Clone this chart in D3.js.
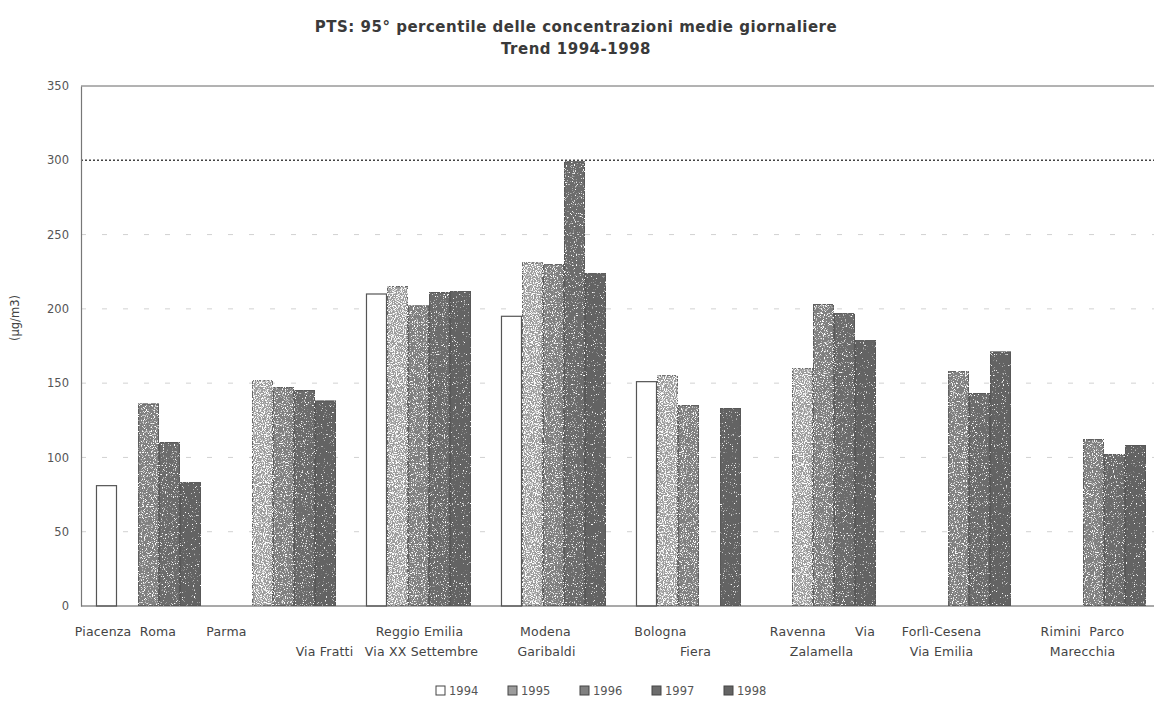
<!DOCTYPE html>
<html>
<head>
<meta charset="utf-8">
<script src="https://cdn.jsdelivr.net/npm/d3@7"></script>
<style>
  body { margin: 0; background: #fff; }
  svg { display: block; }
  text { font-family: "DejaVu Sans", "Liberation Sans", Arial, sans-serif; }
</style>
</head>
<body>
<svg id="chart" width="1154" height="702"></svg>
<script>
// Monitoring stations (one group of bars each)
const stations = [
  "Piacenza Roma", "Parma Via Fratti", "Reggio Emilia Via XX Settembre",
  "Modena Garibaldi", "Bologna Fiera", "Ravenna Via Zalamella",
  "Forlì-Cesena Via Emilia", "Rimini Parco Marecchia"
];
// Axis label lines as printed under each group
const stationLines = [
  ["Piacenza  Roma"], ["Parma", "Via Fratti"], ["Reggio Emilia", "Via XX Settembre"],
  ["Modena", "Garibaldi"], ["Bologna", "Fiera"], ["Ravenna       Via", "Zalamella"],
  ["Forlì-Cesena", "Via Emilia"], ["Rimini  Parco", "Marecchia"]
];
const years = ["1994", "1995", "1996", "1997", "1998"];

// 95th percentile of daily mean PTS concentrations (µg/m3); null = no data
const pts1994 = [81, null, 210, 195, 151, null, null, null];
const pts1995 = [null, 152, 215, 231, 155, 160, null, null];
const pts1996 = [136, 147, 202, 230, 135, 203, 158, 112];
const pts1997 = [110, 145, 211, 299, null, 197, 143, 102];
const pts1998 = [83, 138, 212, 224, 133, 179, 171, 108];
const yTicks = [0, 50, 100, 150, 200, 250, 300, 350];
const limitValue = 300;

const series = [pts1994, pts1995, pts1996, pts1997, pts1998];

const svg = d3.select("#chart");
const M = { left: 81, top: 86, bottom: 606, right: 1161 };

const x0 = d3.scaleBand().domain(stations).range([M.left, M.right]).padding(0);
const bw = x0.bandwidth();
const x1 = d3.scaleBand().domain(years).range([bw * 0.111, bw * 0.889]).padding(0);
const y = d3.scaleLinear().domain([0, 350]).range([M.bottom, M.top]);

// speckle texture for the grey fills
const defs = svg.append("defs");
function speckle(id, freq, slope, offset) {
  const f = defs.append("filter").attr("id", id)
    .attr("x", 0).attr("y", 0).attr("width", 1).attr("height", 1);
  f.append("feTurbulence").attr("type", "fractalNoise")
    .attr("baseFrequency", freq).attr("numOctaves", 2).attr("seed", 3).attr("result", "noise");
  f.append("feColorMatrix").attr("in", "noise").attr("type", "matrix")
    .attr("values", `0 0 0 0 1  0 0 0 0 1  0 0 0 0 1  ${slope} 0 0 0 ${offset}`)
    .attr("result", "dots");
  f.append("feComposite").attr("in", "dots").attr("in2", "SourceGraphic")
    .attr("operator", "in").attr("result", "dotsIn");
  const m = f.append("feMerge");
  m.append("feMergeNode").attr("in", "SourceGraphic");
  m.append("feMergeNode").attr("in", "dotsIn");
}
speckle("sp1995", 0.9, 7, -3.4);
speckle("sp1996", 0.9, 7, -3.9);
speckle("sp1997", 0.9, 7, -4.3);
speckle("sp1998", 0.9, 7, -4.6);

const fills = { "1994": "#ffffff", "1995": "#9c9c9c", "1996": "#808080", "1997": "#6c6c6c", "1998": "#646464" };
const filters = { "1994": null, "1995": "url(#sp1995)", "1996": "url(#sp1996)", "1997": "url(#sp1997)", "1998": "url(#sp1998)" };
const strokes = { "1994": "#555", "1995": "#666", "1996": "#5e5e5e", "1997": "#5a5a5a", "1998": "#585858" };

// faint gridlines
svg.append("g").selectAll("line")
  .data(yTicks.filter(t => t > 0 && t < 350 && t !== limitValue))
  .join("line")
  .attr("x1", M.left).attr("x2", M.right)
  .attr("y1", d => y(d)).attr("y2", d => y(d))
  .attr("stroke", "#9a9a9a").attr("stroke-width", 1)
  .attr("stroke-dasharray", "5,16").attr("opacity", 0.45);

// limit line at 300
svg.append("line")
  .attr("x1", M.left).attr("x2", M.right)
  .attr("y1", y(limitValue)).attr("y2", y(limitValue))
  .attr("stroke", "#444").attr("stroke-width", 1.6)
  .attr("stroke-dasharray", "2,2");

// bars
const barData = [];
stations.forEach((s, i) => {
  years.forEach((yr, j) => {
    const v = series[j][i];
    if (v != null) barData.push({ station: s, year: yr, value: v });
  });
});
svg.append("g").selectAll("rect")
  .data(barData)
  .join("rect")
  .attr("x", d => x0(d.station) + x1(d.year) + 0.5)
  .attr("y", d => y(d.value))
  .attr("width", x1.bandwidth() - 1)
  .attr("height", d => y(0) - y(d.value))
  .attr("fill", d => fills[d.year])
  .attr("filter", d => filters[d.year])
  .attr("stroke", d => strokes[d.year])
  .attr("stroke-width", 1.2);

// frame: top border, baseline
svg.append("line").attr("x1", M.left).attr("x2", M.right)
  .attr("y1", y(350)).attr("y2", y(350)).attr("stroke", "#666").attr("stroke-width", 1);
svg.append("line").attr("x1", M.left).attr("x2", M.right)
  .attr("y1", y(0)).attr("y2", y(0)).attr("stroke", "#555").attr("stroke-width", 1.2);

const yAxis = svg.append("g")
  .attr("transform", `translate(${M.left},0)`)
  .call(d3.axisLeft(y).tickValues(yTicks).tickSize(0).tickPadding(12));
yAxis.select(".domain").attr("stroke", "#777").attr("stroke-width", 1.2);
yAxis.selectAll("text").attr("font-size", 11.5).attr("fill", "#555")
  .attr("font-family", "'DejaVu Sans', 'Liberation Sans', Arial, sans-serif");

// y label
svg.append("text")
  .attr("transform", `translate(19,318) rotate(-90)`)
  .attr("text-anchor", "middle").attr("font-size", 11.5).attr("fill", "#444")
  .text("(µg/m3)");

// station labels
const labelShift = [[-23], [-57, 41], [1, 3], [-8, -7], [-28, 7], [-1, -2], [-17, -17], [-11, -11]];
const labels = svg.append("g").attr("font-size", 12.5).attr("fill", "#444")
  .attr("letter-spacing", 0.2);
stationLines.forEach((lines, i) => {
  lines.forEach((t, k) => {
    labels.append("text")
      .attr("x", x0(stations[i]) + bw / 2 + labelShift[i][k])
      .attr("y", 636 + k * 20)
      .attr("text-anchor", "middle")
      .attr("xml:space", "preserve")
      .style("white-space", "pre")
      .text(t);
  });
});

// title
const titleLines = ["PTS: 95° percentile delle concentrazioni medie giornaliere", "Trend 1994-1998"];
svg.append("g").selectAll("text").data(titleLines).join("text")
  .attr("x", 576).attr("y", (d, i) => 32 + i * 22).attr("text-anchor", "middle")
  .attr("font-size", 15).attr("font-weight", "bold").attr("fill", "#3a3a3a")
  .attr("letter-spacing", 0.5)
  .text(d => d);

// legend
const legend = svg.append("g").attr("transform", "translate(436,686)");
const item = legend.selectAll("g").data(years).join("g")
  .attr("transform", (d, i) => `translate(${i * 72},0)`);
item.append("rect").attr("width", 9).attr("height", 9)
  .attr("fill", d => fills[d]).attr("stroke", "#444").attr("stroke-width", 1);
item.append("text").attr("x", 13).attr("y", 9).attr("font-size", 11.5).attr("fill", "#555")
  .text(d => d);
</script>
</body>
</html>
